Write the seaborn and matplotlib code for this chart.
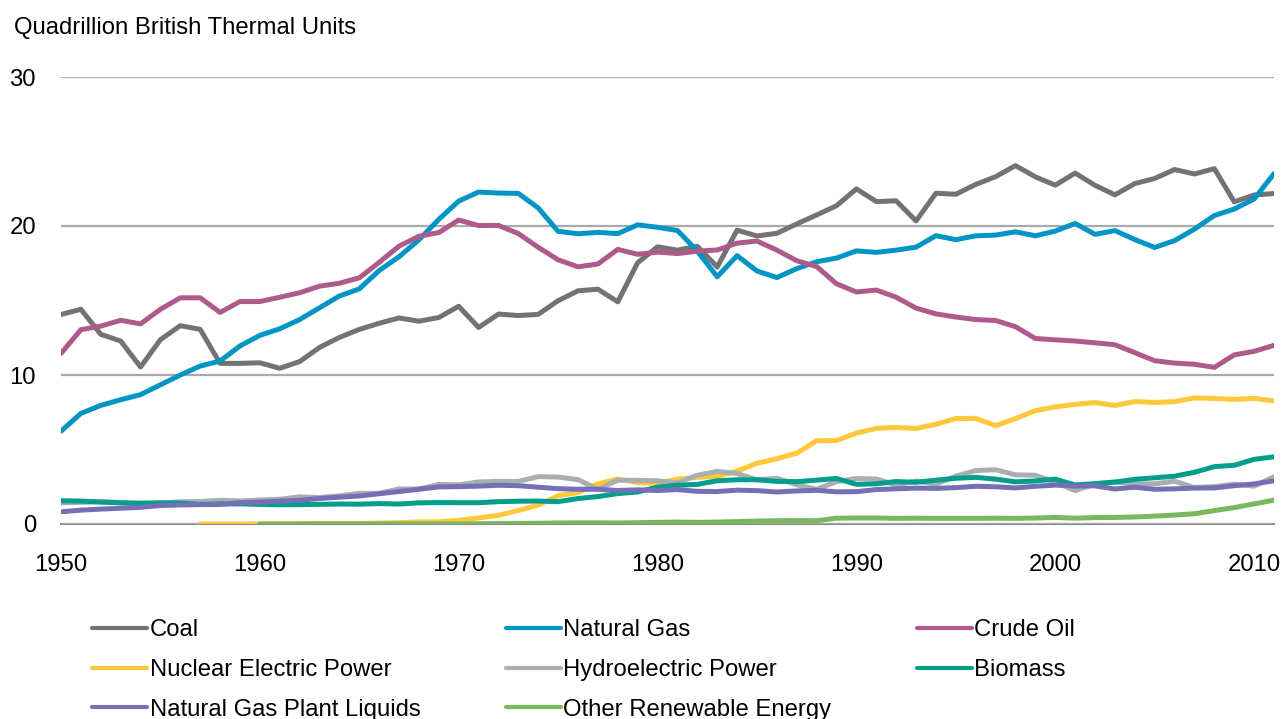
import numpy as np
import pandas as pd
import matplotlib
matplotlib.use('Agg')
import matplotlib.pyplot as plt
from matplotlib.ticker import MultipleLocator
import seaborn as sns

# Years 1950-2011
years = list(range(1950, 2012))

coal = [14.06, 14.41, 12.73, 12.28, 10.54, 12.37, 13.31, 13.06, 10.78, 10.78,
        10.82, 10.45, 10.90, 11.85, 12.52, 13.06, 13.47, 13.83, 13.61, 13.86,
        14.61, 13.19, 14.09, 13.99, 14.07, 14.99, 15.65, 15.76, 14.91, 17.54,
        18.60, 18.38, 18.64, 17.25, 19.72, 19.33, 19.51, 20.14, 20.74, 21.36,
        22.49, 21.64, 21.69, 20.34, 22.20, 22.13, 22.79, 23.31, 24.05, 23.30,
        22.74, 23.55, 22.73, 22.09, 22.85, 23.19, 23.79, 23.49, 23.85, 21.62,
        22.08, 22.18]

natural_gas = [6.23, 7.42, 7.96, 8.34, 8.68, 9.34, 10.00, 10.60, 10.94, 11.95,
               12.66, 13.10, 13.72, 14.51, 15.30, 15.78, 17.01, 17.94, 19.07, 20.45,
               21.67, 22.28, 22.21, 22.19, 21.21, 19.64, 19.48, 19.57, 19.49, 20.08,
               19.91, 19.70, 18.32, 16.59, 18.01, 16.98, 16.54, 17.14, 17.60, 17.85,
               18.33, 18.23, 18.38, 18.58, 19.35, 19.08, 19.34, 19.39, 19.61, 19.34,
               19.66, 20.17, 19.44, 19.69, 19.09, 18.56, 19.02, 19.79, 20.70, 21.14,
               21.81, 23.51]

crude_oil = [11.45, 13.04, 13.28, 13.67, 13.43, 14.41, 15.18, 15.18, 14.20, 14.93,
             14.93, 15.22, 15.52, 15.96, 16.16, 16.52, 17.56, 18.65, 19.31, 19.56,
             20.40, 20.03, 20.04, 19.49, 18.57, 17.73, 17.26, 17.45, 18.43, 18.10,
             18.25, 18.15, 18.31, 18.39, 18.85, 18.99, 18.38, 17.67, 17.28, 16.12,
             15.57, 15.70, 15.22, 14.49, 14.10, 13.89, 13.72, 13.66, 13.24, 12.45,
             12.36, 12.28, 12.16, 12.03, 11.50, 10.96, 10.80, 10.72, 10.51, 11.35,
             11.59, 11.99]

nuclear = [np.nan] * 7 + [
    0.00, 0.00, 0.00,
    0.01, 0.02, 0.03, 0.04, 0.04, 0.04, 0.06, 0.09, 0.14, 0.15,
    0.24, 0.41, 0.58, 0.91, 1.27, 1.90, 2.11, 2.70, 3.02, 2.78,
    2.74, 3.01, 3.13, 3.20, 3.55, 4.08, 4.38, 4.75, 5.59, 5.60,
    6.10, 6.42, 6.48, 6.41, 6.69, 7.08, 7.09, 6.60, 7.07, 7.61,
    7.86, 8.03, 8.15, 7.96, 8.22, 8.16, 8.21, 8.46, 8.43, 8.36,
    8.43, 8.26]

hydro = [1.42, 1.45, 1.50, 1.44, 1.39, 1.41, 1.49, 1.51, 1.59, 1.55,
         1.61, 1.66, 1.82, 1.77, 1.89, 2.06, 2.06, 2.35, 2.35, 2.65,
         2.63, 2.82, 2.86, 2.86, 3.18, 3.15, 2.98, 2.33, 2.94, 2.93,
         2.90, 2.76, 3.27, 3.53, 3.39, 2.97, 3.07, 2.63, 2.33, 2.84,
         3.05, 3.02, 2.62, 2.89, 2.68, 3.21, 3.59, 3.64, 3.30, 3.27,
         2.81, 2.24, 2.69, 2.82, 2.69, 2.70, 2.87, 2.45, 2.51, 2.67,
         2.54, 3.17]

biomass = [1.56, 1.54, 1.47, 1.42, 1.39, 1.42, 1.40, 1.32, 1.35, 1.35,
           1.32, 1.29, 1.30, 1.32, 1.34, 1.33, 1.37, 1.34, 1.42, 1.44,
           1.43, 1.43, 1.50, 1.53, 1.54, 1.50, 1.71, 1.84, 2.04, 2.15,
           2.48, 2.60, 2.66, 2.90, 2.97, 2.97, 2.86, 2.84, 2.94, 3.06,
           2.66, 2.70, 2.85, 2.80, 2.94, 3.07, 3.13, 3.01, 2.83, 2.89,
           3.01, 2.62, 2.71, 2.81, 3.00, 3.10, 3.21, 3.47, 3.85, 3.94,
           4.34, 4.51]

ngpl = [0.82, 0.93, 1.00, 1.06, 1.12, 1.24, 1.28, 1.30, 1.31, 1.43,
        1.46, 1.54, 1.59, 1.71, 1.80, 1.88, 2.03, 2.18, 2.33, 2.49,
        2.51, 2.54, 2.60, 2.57, 2.47, 2.37, 2.33, 2.33, 2.25, 2.29,
        2.25, 2.31, 2.19, 2.18, 2.27, 2.24, 2.15, 2.22, 2.26, 2.16,
        2.17, 2.31, 2.36, 2.41, 2.39, 2.44, 2.53, 2.50, 2.42, 2.53,
        2.61, 2.55, 2.56, 2.35, 2.47, 2.33, 2.36, 2.41, 2.42, 2.57,
        2.69, 2.90]

other_renew = [np.nan] * 10 + [
    0.00, 0.00, 0.00, 0.01, 0.01, 0.01, 0.01, 0.01, 0.01, 0.01,
    0.01, 0.02, 0.03, 0.04, 0.05, 0.07, 0.08, 0.08, 0.07, 0.09,
    0.11, 0.13, 0.11, 0.13, 0.16, 0.20, 0.22, 0.23, 0.22, 0.39,
    0.40, 0.40, 0.38, 0.39, 0.38, 0.38, 0.38, 0.39, 0.38, 0.40,
    0.44, 0.39, 0.43, 0.44, 0.47, 0.53, 0.60, 0.69, 0.90, 1.10,
    1.35, 1.60]

series_names = ['Coal', 'Natural Gas', 'Crude Oil',
                'Nuclear Electric Power', 'Hydroelectric Power', 'Biomass',
                'Natural Gas Plant Liquids', 'Other Renewable Energy']
series_values = [coal, natural_gas, crude_oil, nuclear, hydro, biomass, ngpl, other_renew]
colors = ['#737373', '#0095C4', '#AE5A8B', '#FFC73A', '#A9AEAE', '#009E8B', '#7570B6', '#7AB85C']

frames = []
for name, vals in zip(series_names, series_values):
    frames.append(pd.DataFrame({'Year': years, 'Value': vals, 'Source': name}))
df = pd.concat(frames, ignore_index=True).dropna()

sns.set_style('white')
plt.rcParams['font.family'] = ['Liberation Sans', 'DejaVu Sans']
plt.rcParams['text.color'] = 'black'

fig = plt.figure(figsize=(12.83, 7.19), dpi=100)
ax = fig.add_axes([61 / 1283, 1 - 524 / 719, (1274 - 61) / 1283, (524 - 77) / 719])

sns.lineplot(data=df, x='Year', y='Value', hue='Source', hue_order=series_names,
             palette=dict(zip(series_names, colors)), lw=3.6, ax=ax, legend=False)

ax.set_xlim(1950, 2011)
ax.set_ylim(0, 30)
ax.set_yticks([0, 10, 20, 30])
ax.set_xticks(range(1950, 2011, 10))
ax.xaxis.set_minor_locator(MultipleLocator(1))
ax.yaxis.grid(True, color='#A8ABAD', lw=1.6)
ax.set_axisbelow(True)
for side in ['top', 'right', 'left']:
    ax.spines[side].set_visible(False)
ax.spines['bottom'].set_color('#8A8A8A')
ax.spines['bottom'].set_linewidth(1.5)
ax.spines['bottom'].set_zorder(0.5)
ax.tick_params(axis='y', length=0, pad=18, labelsize=17.2, labelcolor='black')
ax.tick_params(axis='x', which='major', direction='inout', length=10, width=1.2,
               color='#8A8A8A', pad=16.5, labelsize=17.2, labelcolor='black')
ax.tick_params(axis='x', which='minor', direction='out', length=4.3, width=1.2, color='#8A8A8A')
ax.set_xlabel('')
ax.set_ylabel('')

fig.text(14 / 1283, 1 - 28 / 719, 'Quadrillion British Thermal Units', fontsize=17.2,
         va='center', color='black')

# legend, filled column by column
order = [0, 3, 6, 1, 4, 7, 2, 5]
handles = [plt.Line2D([], [], color=colors[i], lw=3.0) for i in order]
labels = [series_names[i] for i in order]
fig.legend(handles, labels, ncol=3, loc='upper left', bbox_to_anchor=(92 / 1283, 1 - 619 / 719),
           frameon=False, fontsize=17.2, handlelength=2.3, handletextpad=0.12,
           labelspacing=0.75, columnspacing=3.56, borderpad=0, borderaxespad=0)

fig.savefig('out.png', dpi=100)
